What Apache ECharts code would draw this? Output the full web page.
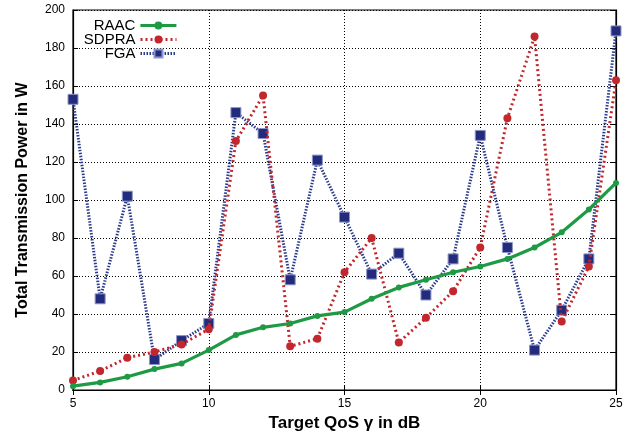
<!DOCTYPE html>
<html><head><meta charset="utf-8">
<script src="https://cdn.jsdelivr.net/npm/echarts@6/dist/echarts.min.js"></script>
<style>html,body{margin:0;padding:0;background:#fff}#c{width:633px;height:437px}</style>
</head><body><div id="c"></div>
<script>
const xValues = [5,6,7,8,9,10,11,12,13,14,15,16,17,18,19,20,21,22,23,24,25];
const raac  = [2,4,7,11,14,21,29,33,35,39,41,48,54,58,62,65,69,75,83,95,109];
const sdpra = [5,10,17,20,24,32,131,155,23,27,62,80,25,38,52,75,143,186,36,65,163];
const fga   = [153,48,102,16,26,35,146,135,58,121,91,61,72,50,69,134,75,21,42,69,189];
const yTicks = [0,20,40,60,80,100,120,140,160,180,200];
const xTicks = [5,10,15,20,25];

const pair = arr => xValues.map((x,i)=>[x,arr[i]]);
const font = 'Liberation Sans, Arial, Helvetica, sans-serif';
const chart = echarts.init(document.getElementById('c'));
const legendBase = {orient:'horizontal', align:'right', right:455, itemWidth:36, itemHeight:10, itemGap:4,
  textStyle:{fontFamily:font, fontSize:15, color:'#000'}, padding:0};
chart.setOption({
  animation:false,
  grid:{left:73, right:17, top:10, bottom:44, show:true, borderColor:'#000', borderWidth:1.2},
  legend:[
    Object.assign({}, legendBase, {top:18, data:['RAAC'], lineStyle:{width:3.2, color:'#1f9a44'}}),
    Object.assign({}, legendBase, {top:32, data:['SDPRA'], lineStyle:{width:3, color:'#c1272d', type:[2,3]}}),
    Object.assign({}, legendBase, {top:46, data:['FGA'], lineStyle:{width:3, color:'#2a3a8c', type:[1.5,1.5]}})
  ],
  xAxis:[{
    type:'value', min:xTicks[0], max:xTicks[xTicks.length-1], interval:5,
    name:'Target QoS γ in dB', nameLocation:'middle', nameGap:25,
    nameTextStyle:{fontFamily:font, fontSize:17, fontWeight:'bold', color:'#000'},
    axisLine:{lineStyle:{color:'#000', width:1.2}},
    axisTick:{inside:true, length:5, lineStyle:{color:'#000'}},
    axisLabel:{fontFamily:font, fontSize:12, color:'#000', margin:8},
    splitLine:{show:true, lineStyle:{color:'#000', type:[1,2], width:1}}
  },{
    type:'value', position:'top', min:5, max:25, interval:5,
    axisLine:{show:true, lineStyle:{color:'#000', width:1.2}},
    axisTick:{inside:true, length:5, lineStyle:{color:'#000'}},
    axisLabel:{show:false}, splitLine:{show:false}
  }],
  yAxis:[{
    type:'value', min:yTicks[0], max:yTicks[yTicks.length-1], interval:20,
    name:'Total Transmission Power in W', nameLocation:'middle', nameGap:42,
    nameTextStyle:{fontFamily:font, fontSize:16, fontWeight:'bold', color:'#000'},
    axisLine:{show:true, lineStyle:{color:'#000', width:1.2}},
    axisTick:{show:true, inside:true, length:5, lineStyle:{color:'#000'}},
    axisLabel:{fontFamily:font, fontSize:12, color:'#000', margin:8},
    splitLine:{show:true, lineStyle:{color:'#000', type:[1,2], width:1}}
  },{
    type:'value', position:'right', min:0, max:200, interval:20,
    axisLine:{show:true, lineStyle:{color:'#000', width:1.2}},
    axisTick:{show:true, inside:true, length:5, lineStyle:{color:'#000'}},
    axisLabel:{show:false}, splitLine:{show:false}
  }],
  series:[
    {name:'RAAC', type:'line', data:pair(raac), symbol:'circle', symbolSize:6, z:5,
     lineStyle:{color:'#1f9a44', width:3.2}, itemStyle:{color:'#1f9a44'}},
    {name:'SDPRA', type:'line', data:pair(sdpra), symbol:'circle', symbolSize:8, z:4,
     lineStyle:{color:'#c1272d', width:3, type:[2,3]}, itemStyle:{color:'#c1272d'}},
    {name:'FGA', type:'line', data:pair(fga), symbol:'rect', symbolSize:10, z:3,
     lineStyle:{color:'#2a3a8c', width:3, type:[1.5,1.5]}, itemStyle:{color:'#232c7c', borderColor:'#8e96c8', borderWidth:1}}
  ]
});
</script></body></html>
